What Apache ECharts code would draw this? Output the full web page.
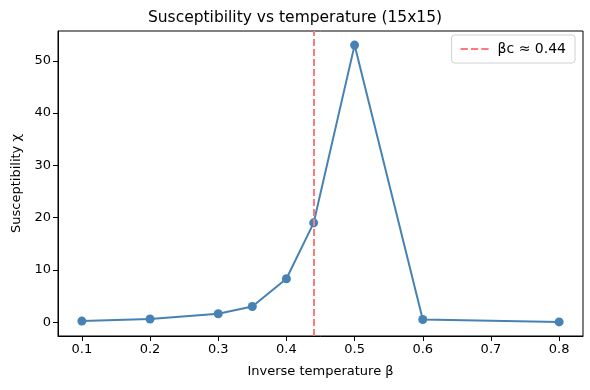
<!DOCTYPE html>
<html>
<head>
<meta charset="utf-8">
<script src="https://cdn.jsdelivr.net/npm/echarts@6/dist/echarts.min.js"></script>
<style>
  html, body { margin: 0; padding: 0; background: #fff; }
  #chart { width: 590px; height: 390px; }
</style>
</head>
<body>
<div id="chart"></div>
<script>
// inverse temperature and susceptibility
var betas = [0.1, 0.2, 0.3, 0.35, 0.4, 0.44, 0.5, 0.6, 0.8]
var chi = [0.2, 0.6, 1.6, 3.0, 8.3, 19.0, 53.0, 0.5, 0.05]
var betaC = 0.44
var xTicks = [0.1, 0.2, 0.3, 0.4, 0.5, 0.6, 0.7, 0.8]
var yTicks = [0, 10, 20, 30, 40, 50]

var font = 'DejaVu Sans'
var points = betas.map(function (b, i) { return [b, chi[i]] })

var option = {
    animation: false,
    backgroundColor: '#fff',
    title: {
        text: 'Susceptibility vs temperature (15x15)',
        left: 'center',
        top: 5,
        textStyle: { fontFamily: font, fontSize: 15.5, fontWeight: 'normal', color: '#000' }
    },
    legend: {
        data: ['βc ≈ 0.44'],
        right: 15,
        top: 35,
        orient: 'vertical',
        backgroundColor: '#fff',
        borderColor: '#d0d0d0',
        borderWidth: 1,
        borderRadius: 3,
        padding: [7, 9, 7, 9],
        itemWidth: 28,
        itemHeight: 3,
        itemGap: 4,
        icon: 'path://M0,0h7v2h-7z M10,0h7v2h-7z M20,0h7v2h-7z',
        textStyle: { fontFamily: font, fontSize: 14, color: '#000', padding: [0, 0, 0, 4] }
    },
    grid: {
        left: 58,
        right: 7,
        top: 31,
        bottom: 54,
        show: true,
        borderColor: '#000',
        borderWidth: 1,
        backgroundColor: 'transparent'
    },
    xAxis: {
        type: 'value',
        min: 0.065,
        max: 0.835,
        name: 'Inverse temperature β',
        nameLocation: 'middle',
        nameGap: 29,
        nameTextStyle: { fontFamily: font, fontSize: 13, color: '#000' },
        axisLine: { show: true, onZero: false, lineStyle: { color: '#000' } },
        axisTick: { show: true, length: 5, customValues: xTicks, lineStyle: { color: '#000' } },
        axisLabel: {
            customValues: xTicks,
            fontFamily: font, fontSize: 13, color: '#000', margin: 7,
            formatter: function (v) { return v.toFixed(1) }
        },
        splitLine: { show: false }
    },
    yAxis: {
        type: 'value',
        min: -2.65,
        max: 55.7,
        name: 'Susceptibility χ',
        nameLocation: 'middle',
        nameGap: 35,
        nameTextStyle: { fontFamily: font, fontSize: 13, color: '#000' },
        axisLine: { show: true, onZero: false, lineStyle: { color: '#000' } },
        axisTick: { show: true, length: 5, customValues: yTicks, lineStyle: { color: '#000' } },
        axisLabel: {
            customValues: yTicks,
            fontFamily: font, fontSize: 13, color: '#000', margin: 7
        },
        splitLine: { show: false }
    },
    series: [
        {
            name: 'chi',
            type: 'line',
            data: points,
            symbol: 'circle',
            symbolSize: 9,
            color: '#4682b4',
            lineStyle: { width: 2, color: '#4682b4' },
            itemStyle: { color: '#4682b4' },
            z: 3
        },
        {
            name: 'βc ≈ 0.44',
            type: 'line',
            data: [],
            color: '#ff7a7a',
            itemStyle: { color: '#ff7a7a' },
            lineStyle: { color: '#ff7a7a', type: [7, 3], width: 2 },
            markLine: {
                silent: true,
                symbol: 'none',
                label: { show: false },
                lineStyle: { color: '#ff7a7a', type: [7, 3], width: 2 },
                data: [{ xAxis: betaC }]
            },
            z: 2
        }
    ]
}

var myChart = echarts.init(document.getElementById('chart'))
myChart.setOption(option)
</script>
</body>
</html>
